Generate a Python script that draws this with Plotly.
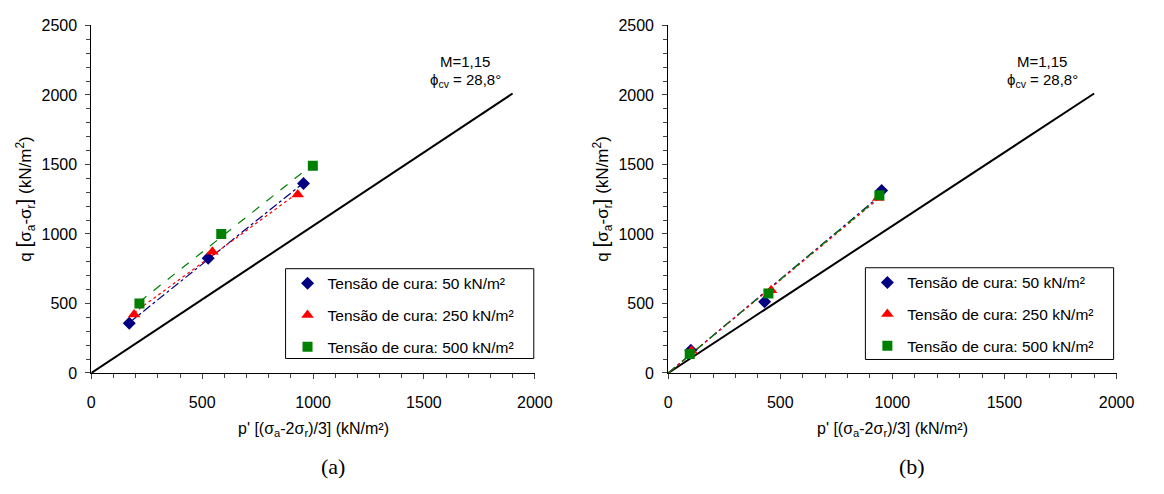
import numpy as np
import plotly.graph_objects as go

# p' and q values (kN/m²) for the two test series
p_a_50 = [171, 527, 957]
q_a_50 = [357, 826, 1363]
p_a_250 = [193, 546, 931]
q_a_250 = [420, 872, 1283]
p_a_500 = [217, 586, 999]
q_a_500 = [500, 1000, 1490]

p_b_50 = [101, 430, 952]
q_b_50 = [164, 512, 1312]
p_b_250 = [104, 459, 937]
q_b_250 = [160, 595, 1258]
p_b_500 = [96, 447, 942]
q_b_500 = [137, 572, 1278]

# critical state line
p_csl = [0, 1900]
q_csl = [0, 2010]

labels = ["Tensão de cura: 50 kN/m²", "Tensão de cura: 250 kN/m²", "Tensão de cura: 500 kN/m²"]
colors = ["#000080", "#FF0000", "#008000"]
symbols = ["diamond", "triangle-up", "square"]
sizes = [10, 11, 10]
dashes = ["dashdot", "dot", "dash"]

FONT = "Liberation Sans"
W, H = 1164, 494

fig = go.Figure()


def fit_line(p, q, through_origin):
    p = np.asarray(p, float)
    q = np.asarray(q, float)
    if through_origin:
        m = (p * q).sum() / (p * p).sum()
        xs = np.array([0.0, p.max()])
        return xs, m * xs
    m, c = np.polyfit(p, q, 1)
    xs = np.array([p.min(), p.max()])
    return xs, m * xs + c


panels = [
    ("x", "y", "legend", [(p_a_50, q_a_50), (p_a_250, q_a_250), (p_a_500, q_a_500)], False),
    ("x2", "y2", "legend2", [(p_b_50, q_b_50), (p_b_250, q_b_250), (p_b_500, q_b_500)], True),
]

for xa, ya, leg, series, origin in panels:
    fig.add_trace(go.Scatter(x=p_csl, y=q_csl, mode="lines", xaxis=xa, yaxis=ya,
                             line=dict(color="black", width=2), showlegend=False,
                             hoverinfo="skip"))
    for i, (p, q) in enumerate(series):
        xs, ys = fit_line(p, q, origin)
        fig.add_trace(go.Scatter(x=xs, y=ys, mode="lines", xaxis=xa, yaxis=ya,
                                 line=dict(color=colors[i], width=1.2, dash=dashes[i]),
                                 showlegend=False, hoverinfo="skip"))
    for i, (p, q) in enumerate(series):
        fig.add_trace(go.Scatter(x=p, y=q, mode="markers", xaxis=xa, yaxis=ya,
                                 name=labels[i], legend=leg, legendgroup=f"{leg}{i}",
                                 marker=dict(color=colors[i], symbol=symbols[i], size=sizes[i])))

# plot areas in pixels
ax_a = (89, 541)
ax_b = (677, 1134)
y_top, y_bot = 18, 378

def px_x(v):
    return v / W

def px_y(v):
    return 1 - v / H

axis_common = dict(showline=True, linecolor="black", linewidth=1, ticks="outside",
                   ticklen=5, tickcolor="#444", tickwidth=1, showgrid=False, zeroline=False,
                   tickfont=dict(family=FONT, size=16, color="black"), dtick=500,
                   minor=dict(ticks="outside", ticklen=4, dtick=100, tickcolor="#444"))

legend_common = dict(bgcolor="rgba(0,0,0,0)", borderwidth=0,
                     font=dict(family=FONT, size=15.5, color="black"),
                     xanchor="left", yanchor="top", tracegroupgap=8.5,
                     itemwidth=30)

fig.update_layout(
    width=W, height=H, margin=dict(l=0, r=0, t=0, b=0),
    paper_bgcolor="white", plot_bgcolor="white",
    font=dict(family=FONT, size=16, color="black"),
    xaxis=dict(domain=[px_x(ax_a[0]), px_x(ax_a[1])], range=[0, 2000], anchor="y",
               ticklabelstandoff=10, **axis_common),
    yaxis=dict(domain=[px_y(y_bot), px_y(y_top)], range=[0, 2500], anchor="x",
               ticklabelstandoff=5, **axis_common),
    xaxis2=dict(domain=[px_x(ax_b[0]), px_x(ax_b[1])], range=[0, 2000], anchor="y2",
                ticklabelstandoff=10, **axis_common),
    yaxis2=dict(domain=[px_y(y_bot), px_y(y_top)], range=[0, 2500], anchor="x2",
                ticklabelstandoff=5, **axis_common),
    legend=dict(x=px_x(289), y=px_y(268), **legend_common),
    legend2=dict(x=px_x(880), y=px_y(267), **legend_common),
)

# legend frames
for bx0, by0, bx1, by1 in [(287, 270, 540, 363), (878, 269, 1131, 364)]:
    fig.add_shape(type="rect", xref="paper", yref="paper",
                  x0=px_x(bx0), x1=px_x(bx1), y0=px_y(by1), y1=px_y(by0),
                  line=dict(color="black", width=1), fillcolor="white", layer="below")

ytitle = ("q <span style='font-size:21px'>[</span>σ<sub>a</sub>-σ<sub>r</sub>"
          "<span style='font-size:21px'>]</span> (kN/m<sup>2</sup>)")
xtitle = "p' [(σ<sub>a</sub>-2σ<sub>r</sub>)/3] (kN/m²)"


def note(x, y, text, size, family=FONT, angle=0):
    fig.add_annotation(x=px_x(x), y=px_y(y), xref="paper", yref="paper",
                       xanchor="center", yanchor="middle", text=text, textangle=angle,
                       showarrow=False, align="center",
                       font=dict(family=family, size=size, color="black"))


for (x0, x1), tag in [(ax_a, "(a)"), (ax_b, "(b)")]:
    cx = (x0 + x1) / 2
    note(x0 - 67, (y_top + y_bot) / 2, ytitle, 17, angle=-90)
    note(cx, 437, xtitle, 16)
    note(cx + 20, 475, tag, 22, family="Liberation Serif")
    note(x0 + 381, 55, "M=1,15", 15)
    note(x0 + 381, 75, "ϕ<sub>cv</sub> = 28,8°", 15)

fig.write_html(
    "out.html",
    post_script="document.body.style.margin='0';document.body.style.overflow='hidden';",
)
